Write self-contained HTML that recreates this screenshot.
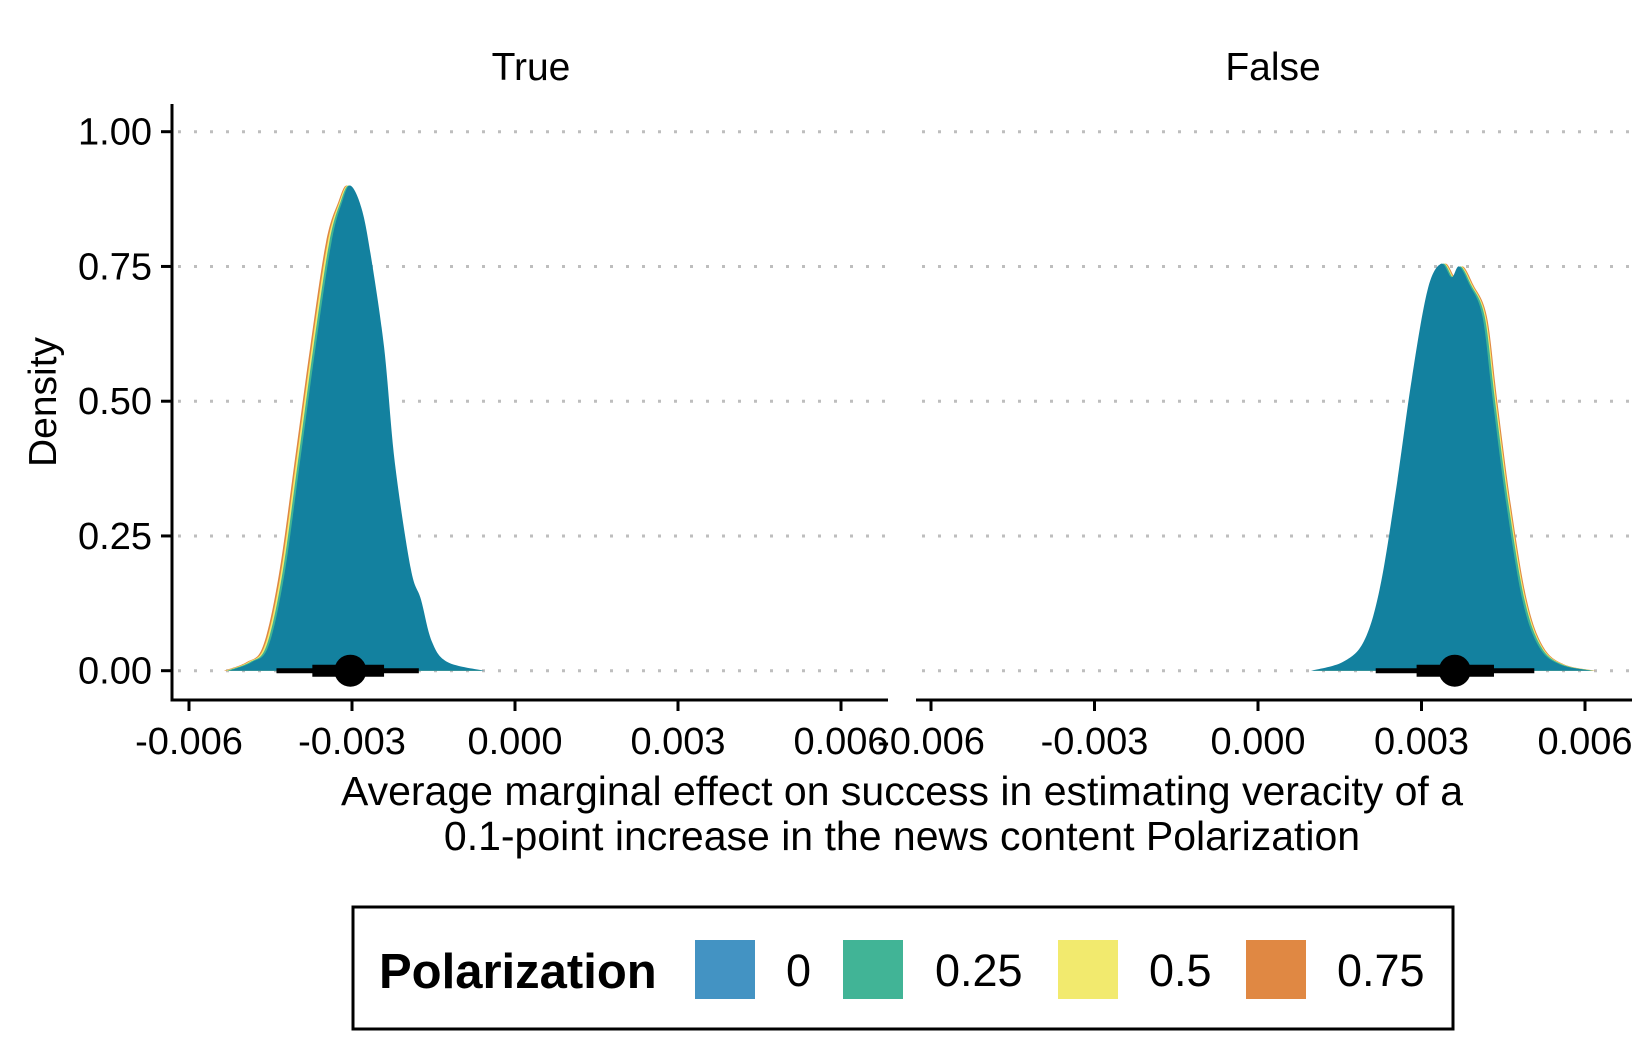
<!DOCTYPE html>
<html><head><meta charset="utf-8"><style>
body{margin:0;background:#fff}
svg{display:block;font-family:"Liberation Sans",sans-serif}
</style></head><body>
<svg id="chart" width="1650" height="1050" viewBox="0 0 1650 1050">
<g id="grid"></g><g id="marks"></g><g id="axes"></g>
<text x="531" y="80" font-size="39" text-anchor="middle">True</text>
<text x="1273" y="80" font-size="39" text-anchor="middle">False</text>
<text transform="translate(56,402) rotate(-90)" font-size="39" text-anchor="middle">Density</text>
<text x="902" y="805" font-size="41" text-anchor="middle">Average marginal effect on success in estimating veracity of a</text>
<text x="902" y="850" font-size="41" text-anchor="middle">0.1-point increase in the news content Polarization</text>
<g>
<rect x="353" y="907" width="1100" height="122" fill="#fff" stroke="#000" stroke-width="3"/>
<text x="379" y="988" font-size="49" font-weight="bold">Polarization</text>
<rect x="695" y="940" width="60" height="59" fill="#4393C3"/>
<text x="786" y="986" font-size="45">0</text>
<rect x="843" y="940" width="60" height="59" fill="#41B496"/>
<text x="935" y="986" font-size="45">0.25</text>
<rect x="1058" y="940" width="60" height="59" fill="#F2EA6E"/>
<text x="1149" y="986" font-size="45">0.5</text>
<rect x="1246" y="940" width="60" height="59" fill="#E08843"/>
<text x="1337" y="986" font-size="45">0.75</text>
</g>
</svg>
<script>
const xTicks=[-0.006,-0.003,0,0.003,0.006];
const xTickLabels=["-0.006","-0.003","0.000","0.003","0.006"];
const yTicks=[0,0.25,0.5,0.75,1];
const yTickLabels=["0.00","0.25","0.50","0.75","1.00"];
const seriesNames=["0.75","0.5","0.25","0"];
const seriesColors=["#E08843","#F2EA6E","#41B496","#13819F"];
// True panel
const trueX0=[-0.00526,-0.00484,-0.00454,-0.00425,-0.00396,-0.00367,-0.00338,-0.00318,-0.00303,-0.00283,-0.00266,-0.00241,-0.00221,-0.00192,-0.00173,-0.00153,-0.00124,-0.00056];
const trueX25=[-0.00530,-0.00488,-0.00458,-0.00429,-0.00400,-0.00371,-0.00342,-0.00321,-0.00305,-0.00286,-0.00269,-0.00244,-0.00224,-0.00195,-0.00176,-0.00156,-0.00127,-0.00060];
const trueX50=[-0.00533,-0.00491,-0.00461,-0.00432,-0.00403,-0.00374,-0.00345,-0.00323,-0.00307,-0.00288,-0.00271,-0.00246,-0.00226,-0.00197,-0.00178,-0.00158,-0.00129,-0.00062];
const trueX75=[-0.00536,-0.00494,-0.00464,-0.00435,-0.00406,-0.00377,-0.00348,-0.00325,-0.00309,-0.00290,-0.00273,-0.00248,-0.00228,-0.00199,-0.00180,-0.00160,-0.00131,-0.00064];
const trueD=[0,0.016,0.045,0.175,0.385,0.6,0.794,0.87,0.9,0.86,0.774,0.6,0.385,0.19,0.132,0.054,0.016,0];
// False panel
const falseX0=[0.00097,0.00155,0.00194,0.00223,0.00252,0.00282,0.00311,0.00336,0.00355,0.00369,0.00388,0.00412,0.00431,0.00456,0.00485,0.00515,0.00553,0.00612];
const falseX25=[0.00101,0.00159,0.00198,0.00227,0.00256,0.00286,0.00315,0.00339,0.00358,0.00372,0.00391,0.00416,0.00435,0.00460,0.00489,0.00519,0.00557,0.00616];
const falseX50=[0.00103,0.00161,0.00200,0.00229,0.00258,0.00288,0.00317,0.00341,0.00360,0.00374,0.00393,0.00418,0.00437,0.00462,0.00491,0.00521,0.00559,0.00618];
const falseX75=[0.00105,0.00163,0.00202,0.00231,0.00260,0.00290,0.00319,0.00343,0.00362,0.00376,0.00395,0.00420,0.00439,0.00464,0.00493,0.00523,0.00561,0.00620];
const falseD=[0,0.016,0.054,0.15,0.327,0.54,0.706,0.755,0.73,0.75,0.716,0.657,0.5,0.307,0.132,0.045,0.012,0];
// point intervals: [point, thickLo, thickHi, thinLo, thinHi]
const trueInterval=[-0.00303,-0.00373,-0.00241,-0.00439,-0.00177];
const falseInterval=[0.00361,0.00291,0.00433,0.00216,0.00507];

const NS="http://www.w3.org/2000/svg";
function mk(tag,attrs,parent){const e=document.createElementNS(NS,tag);for(const k in attrs)e.setAttribute(k,attrs[k]);parent.appendChild(e);return e;}
const xL=v=>515+v/0.003*163;
const xR=v=>1258+v/0.003*163.5;
const y=d=>670.7-d*539;
function smoothPath(pts){
 let s='M'+pts[0][0].toFixed(1)+','+pts[0][1].toFixed(1);
 for(let i=0;i<pts.length-1;i++){
  const p0=pts[Math.max(0,i-1)],p1=pts[i],p2=pts[i+1],p3=pts[Math.min(pts.length-1,i+2)];
  const c1x=p1[0]+(p2[0]-p0[0])/6,c1y=p1[1]+(p2[1]-p0[1])/6;
  const c2x=p2[0]-(p3[0]-p1[0])/6,c2y=p2[1]-(p3[1]-p1[1])/6;
  s+=' C'+c1x.toFixed(1)+','+Math.min(c1y,670.7).toFixed(1)+' '+c2x.toFixed(1)+','+Math.min(c2y,670.7).toFixed(1)+' '+p2[0].toFixed(1)+','+p2[1].toFixed(1);
 }
 return s+' Z';
}
const panels=[
 {name:"true",sx:xL,x0:172,x1:888,xs:[trueX75,trueX50,trueX25,trueX0],d:trueD,iv:trueInterval},
 {name:"false",sx:xR,x0:916,x1:1632,xs:[falseX75,falseX50,falseX25,falseX0],d:falseD,iv:falseInterval}
];
const grid=document.getElementById('grid'),marks=document.getElementById('marks'),axes=document.getElementById('axes');
panels.forEach((p,pi)=>{
 yTicks.forEach((t,i)=>{
  const g=mk('line',{x1:p.x0+6,x2:p.x1,y1:y(t),y2:y(t),stroke:'#bebebe','stroke-width':3,'stroke-dasharray':'3 13'},grid);
  
  
 });
 p.xs.forEach((xs,si)=>{
  const pts=xs.map((v,i)=>[p.sx(v),y(p.d[i])]);
  const a=mk('path',{d:smoothPath(pts),fill:seriesColors[si]},marks);
  
  
 });
 const iv=p.iv;
 const l1=mk('line',{x1:p.sx(iv[3]),x2:p.sx(iv[4]),y1:y(0),y2:y(0),stroke:'#000','stroke-width':5},marks);
 
 
 const l2=mk('line',{x1:p.sx(iv[1]),x2:p.sx(iv[2]),y1:y(0),y2:y(0),stroke:'#000','stroke-width':12},marks);
 
 
 const c=mk('circle',{cx:p.sx(iv[0]),cy:y(0),r:16,fill:'#000'},marks);
 
 
 const ax=mk('line',{x1:p.x0,x2:p.x1,y1:700,y2:700,stroke:'#000','stroke-width':3},axes);
 
 
 xTicks.forEach((t,i)=>{
  const tk=mk('line',{x1:p.sx(t),x2:p.sx(t),y1:700,y2:711,stroke:'#000','stroke-width':3},axes);
  
  
  const tl=mk('text',{x:p.sx(t),y:754,'font-size':38,'text-anchor':'middle'},axes);
  tl.textContent=xTickLabels[i];
  
  
 });
});
const ya=mk('line',{x1:172,x2:172,y1:104,y2:701.5,stroke:'#000','stroke-width':3},axes);


yTicks.forEach((t,i)=>{
 const tk=mk('line',{x1:161,x2:172,y1:y(t),y2:y(t),stroke:'#000','stroke-width':3},axes);
 
 
 const tl=mk('text',{x:152,y:y(t)+13,'font-size':38,'text-anchor':'end'},axes);
 tl.textContent=yTickLabels[i];
 
 
});
</script>
</body></html>
